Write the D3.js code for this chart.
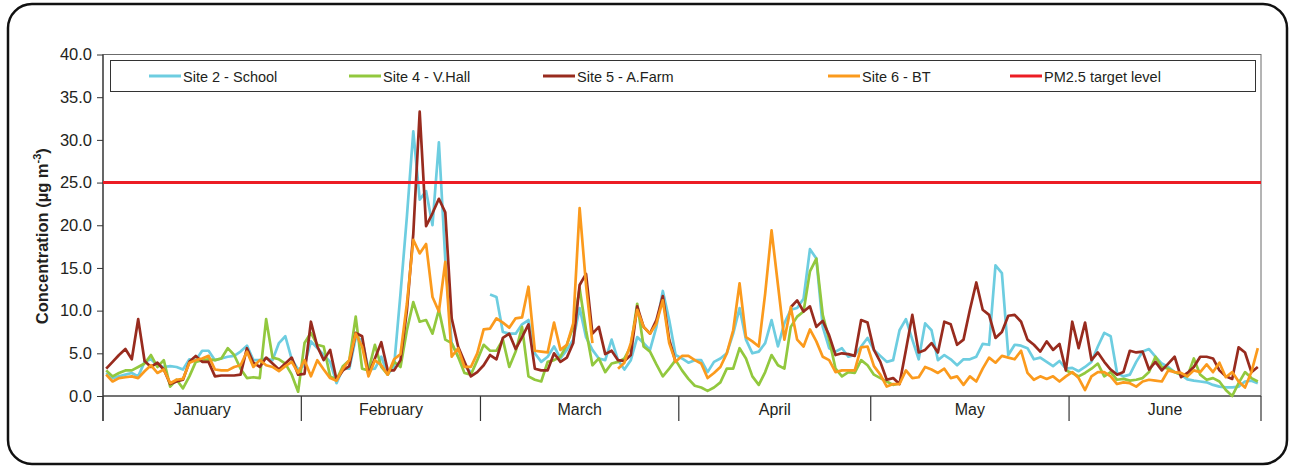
<!DOCTYPE html>
<html>
<head>
<meta charset="utf-8">
<script src="https://cdn.jsdelivr.net/npm/d3@7"></script>
<style>
  body { margin: 0; background: #fff; }
  svg text { font-family: "Liberation Sans", Arial, sans-serif; fill: #231f20; }
</style>
</head>
<body>
<svg id="chart" width="1292" height="468"></svg>
<script>
// Month categories (one point per day, January to June)
const months = ["January", "February", "March", "April", "May", "June"];
const monthDays = [31, 28, 31, 30, 31, 30];

// Daily mean PM2.5 concentration (µg m-3); null = no data
const site2School = [
  2.7,2.1,2.3,2.5,2.7,2.3,4.0,4.3,3.6,3.4,3.5,3.4,3.1,4.3,4.2,5.3,5.3,4.2,4.4,4.6,4.7,5.2,5.9,4.2,4.2,4.4,4.2,6.2,7.0,4.3,3.1,
  3.6,6.4,5.6,4.8,4.0,1.5,3.2,3.2,6.8,6.6,3.1,3.2,4.6,2.5,3.5,12.0,21.0,31.0,23.0,24.0,20.0,29.7,16.0,6.2,4.6,3.6,2.8,
  null,null,11.9,11.6,7.5,7.3,7.3,8.4,8.9,5.0,4.0,4.6,5.8,4.4,5.4,6.6,10.3,6.9,5.4,4.4,4.2,6.6,4.2,3.1,4.2,6.9,6.2,5.4,8.1,12.3,8.9,4.8,
  4.4,3.9,4.2,4.2,2.8,4.0,4.4,5.0,7.3,10.3,6.6,5.0,5.2,6.2,8.9,5.8,8.5,10.1,10.3,11.4,17.2,16.1,8.1,5.6,5.2,5.6,4.6,4.8,5.8,6.8,
  5.4,4.7,4.0,4.2,7.7,9.0,6.6,4.3,8.5,7.7,4.2,4.8,4.3,3.6,4.3,4.3,4.6,6.1,6.0,15.3,14.4,4.8,6.0,5.9,5.6,4.3,4.5,4.0,3.5,4.1,3.2,
  3.3,2.9,3.4,4.0,5.8,7.4,7.0,2.7,2.3,2.5,4.0,5.2,5.5,4.6,3.8,3.4,2.8,2.5,1.95,1.8,1.7,1.6,1.3,1.1,1.0,1.0,1.1,1.7,1.8,1.5
];
const site4VHall = [
  3.0,2.3,2.7,3.0,3.0,3.4,3.8,4.8,3.4,4.2,1.1,1.9,0.9,2.3,4.0,4.2,4.3,4.2,4.4,5.6,4.8,3.2,2.1,2.2,2.1,9.0,4.5,4.3,3.8,2.5,0.5,
  6.2,7.4,6.0,5.8,2.3,1.9,3.5,4.2,9.3,3.2,3.0,6.0,3.4,2.5,4.0,3.4,7.7,11.0,8.7,8.9,7.3,10.1,6.6,6.2,4.6,2.7,2.5,
  4.2,6.0,5.3,5.3,6.6,3.4,5.2,8.1,2.3,1.9,1.7,4.0,4.2,4.6,6.0,8.1,12.6,7.7,3.6,4.4,2.8,3.8,4.0,4.4,5.8,10.8,5.8,5.2,3.7,2.3,3.2,4.2,
  3.0,2.0,1.2,1.0,0.6,1.0,1.6,3.2,3.2,5.6,4.4,2.3,1.3,2.8,4.8,3.6,3.2,8.1,9.3,9.9,14.6,16.1,9.5,6.6,3.2,2.3,2.8,2.7,4.2,3.6,
  2.5,2.1,1.7,1.3,1.5,null,null,null,null,null,null,null,null,null,null,null,null,null,null,null,null,null,null,null,null,null,null,null,null,null,3.0,
  2.7,2.3,2.7,3.2,3.8,2.3,2.8,1.9,2.0,1.8,1.9,2.1,2.8,4.6,3.4,3.2,2.8,2.5,2.3,4.4,2.5,1.9,2.1,1.7,0.7,0.0,1.5,2.8,2.1,1.7
];
const site5AFarm = [
  3.2,4.0,4.8,5.5,4.3,9.0,4.1,3.4,3.9,3.1,1.4,1.7,1.9,4.0,4.7,4.0,4.0,2.3,2.4,2.4,2.4,2.5,5.6,3.9,3.4,4.5,3.8,3.1,3.8,4.5,2.5,
  2.6,8.7,5.8,4.2,5.4,1.9,3.0,3.5,7.4,7.0,2.5,4.4,6.3,3.0,3.0,4.2,10.0,19.0,33.3,19.9,21.4,23.1,21.5,9.1,5.8,4.0,2.3,
  2.8,3.6,4.8,4.3,6.8,7.3,5.5,6.9,8.4,3.2,3.0,3.0,5.0,4.0,4.5,6.2,13.0,14.3,7.3,8.1,4.9,5.3,4.2,4.1,4.8,10.5,8.1,7.3,8.9,11.7,6.6,4.0,
  null,null,null,null,null,null,null,null,null,null,null,null,null,null,null,null,null,10.4,11.2,9.9,10.5,8.1,8.8,7.1,4.8,5.0,4.9,4.7,8.9,8.6,
  5.4,4.0,1.9,2.1,1.4,5.4,9.5,5.1,5.4,6.2,5.1,8.7,8.4,6.0,6.6,10.1,13.3,10.1,9.5,6.8,7.5,9.4,9.5,8.7,6.6,6.0,5.2,6.4,5.4,6.1,3.0,
  8.7,5.6,8.6,4.2,5.1,4.0,3.1,2.5,2.8,5.3,5.1,5.2,3.1,4.0,3.0,3.8,4.6,2.2,2.7,3.4,4.6,4.6,4.4,3.0,2.3,2.0,5.7,5.1,2.8,3.4
];
const site6BT = [
  2.5,1.7,2.1,2.2,2.3,2.1,2.9,3.6,2.7,3.1,1.5,1.9,2.0,3.9,4.2,4.4,4.7,3.1,3.0,3.0,3.4,3.6,5.2,3.4,4.2,3.6,3.4,2.9,3.5,4.0,2.7,
  4.2,2.3,4.2,3.1,2.1,1.8,3.2,4.2,7.3,5.8,2.3,4.2,3.6,2.5,4.3,4.9,10.8,18.3,16.7,17.8,11.6,9.9,15.7,4.6,5.6,3.4,3.4,
  5.0,7.8,7.9,9.1,8.6,8.0,9.1,9.2,12.8,5.3,5.2,5.1,8.6,5.4,6.0,8.5,22.0,13.0,6.2,null,null,null,3.2,3.9,6.2,10.1,8.1,7.3,8.5,11.2,6.2,4.0,
  4.7,4.7,4.2,3.8,2.1,2.7,3.4,5.0,7.7,13.2,6.9,6.4,5.8,12.0,19.4,13.0,6.6,10.4,6.6,5.8,7.8,6.4,4.6,4.2,2.8,3.0,3.0,3.0,5.7,5.8,
  3.5,2.5,1.1,1.4,1.4,3.0,2.1,2.2,3.4,3.1,2.7,3.2,2.1,2.3,1.3,2.3,1.7,3.2,4.5,3.9,4.7,4.5,4.3,5.3,2.7,1.9,2.3,2.0,2.3,1.7,2.3,
  2.8,2.1,0.7,2.3,2.8,2.8,2.3,1.4,1.6,1.5,1.1,1.7,1.9,1.8,1.7,3.0,2.8,2.7,2.3,3.0,2.8,3.7,2.8,3.9,2.2,2.8,1.7,1.0,2.8,5.6
];
const targetLevel = 25;

const seriesNames = ["Site 2 - School", "Site 4 - V.Hall", "Site 5 - A.Farm", "Site 6 - BT"];
const seriesColors = ["#6dcde0", "#92c83e", "#982b1e", "#fb9a1d"];
const targetName = "PM2.5 target level";
const targetColor = "#ec1c24";
const yTicks = [0, 5, 10, 15, 20, 25, 30, 35, 40];

const series = [site2School, site4VHall, site5AFarm, site6BT];
const nDays = d3.sum(monthDays);

const svg = d3.select("#chart");
const plot = { left: 103, right: 1261, top: 54.5, bottom: 396 };

// outer rounded frame
svg.append("rect")
  .attr("x", 8).attr("y", 4).attr("width", 1279).attr("height", 460)
  .attr("rx", 24).attr("ry", 24)
  .attr("fill", "#fff").attr("stroke", "#111").attr("stroke-width", 2.5);

const x = d3.scaleBand().domain(d3.range(nDays)).range([plot.left, plot.right]).paddingInner(0).paddingOuter(0);
const xc = i => x(i) + x.bandwidth() / 2;
const y = d3.scaleLinear().domain([0, 40]).range([plot.bottom, plot.top]);

// plot frame
svg.append("rect")
  .attr("x", plot.left).attr("y", plot.top)
  .attr("width", plot.right - plot.left).attr("height", plot.bottom - plot.top)
  .attr("fill", "none").attr("stroke", "#6b6b6b").attr("stroke-width", 1);

// y axis
const yAxis = d3.axisLeft(y).tickValues(yTicks).tickFormat(d3.format(".1f")).tickSize(6).tickPadding(5);
const gy = svg.append("g").attr("transform", `translate(${plot.left},0)`).call(yAxis);
gy.select(".domain").remove();
gy.selectAll(".tick line").attr("stroke", "#333");
gy.selectAll(".tick text").attr("font-size", 16.5).attr("fill", "#231f20")
  .style("font-family", "'Liberation Sans', Arial, sans-serif");
svg.append("line")
  .attr("x1", plot.left).attr("x2", plot.left).attr("y1", plot.top).attr("y2", 421)
  .attr("stroke", "#333").attr("stroke-width", 1.2);

// x axis with month groups
svg.append("line")
  .attr("x1", plot.left).attr("x2", plot.right).attr("y1", plot.bottom).attr("y2", plot.bottom)
  .attr("stroke", "#333").attr("stroke-width", 1.2);
const monthStart = d3.cumsum([0, ...monthDays]);
const boundaries = Array.from(monthStart, (s) => s < nDays ? x(s) : plot.right);
svg.append("g").selectAll("line").data(boundaries).join("line")
  .attr("x1", d => d).attr("x2", d => d).attr("y1", plot.bottom).attr("y2", 421)
  .attr("stroke", "#333").attr("stroke-width", 1.2);
svg.append("g").selectAll("text").data(months).join("text")
  .attr("x", (d, i) => (boundaries[i] + boundaries[i + 1]) / 2)
  .attr("y", 415)
  .attr("text-anchor", "middle")
  .attr("font-size", 16)
  .text(d => d);

// y axis title
const yt = svg.append("text")
  .attr("transform", `translate(48,${(plot.top + plot.bottom) / 2 + 11}) rotate(-90)`)
  .attr("text-anchor", "middle")
  .attr("font-size", 16.5)
  .attr("font-weight", "bold");
yt.append("tspan").text("Concentration (µg m");
yt.append("tspan").attr("font-size", 11).attr("dy", -7).text("-3");
yt.append("tspan").attr("dy", 7).text(")");

// data lines
const line = d3.line()
  .defined(d => d != null)
  .x((d, i) => xc(i))
  .y(d => y(d));
svg.append("g").selectAll("path").data(series).join("path")
  .attr("d", d => line(d))
  .attr("fill", "none")
  .attr("stroke", (d, i) => seriesColors[i])
  .attr("stroke-width", 2.7)
  .attr("stroke-linejoin", "round");

// target level
svg.append("line")
  .attr("x1", plot.left).attr("x2", plot.right)
  .attr("y1", y(targetLevel)).attr("y2", y(targetLevel))
  .attr("stroke", targetColor).attr("stroke-width", 3);

// legend
svg.append("rect")
  .attr("x", 110.5).attr("y", 60.5).attr("width", 1145).attr("height", 31)
  .attr("fill", "#fff").attr("stroke", "#333").attr("stroke-width", 1);
const legendItems = seriesNames.map((n, i) => ({ name: n, color: seriesColors[i] }))
  .concat([{ name: targetName, color: targetColor }]);
const legendX = [149, 349, 543, 828, 1010];
const lg = svg.append("g").selectAll("g").data(legendItems).join("g")
  .attr("transform", (d, i) => `translate(${legendX[i]},76)`);
lg.append("line").attr("x1", 0).attr("x2", 32).attr("y1", 0).attr("y2", 0)
  .attr("stroke", d => d.color).attr("stroke-width", 3);
lg.append("text").attr("x", 34).attr("y", 5.5).attr("font-size", 14.5).text(d => d.name);
</script>
</body>
</html>
